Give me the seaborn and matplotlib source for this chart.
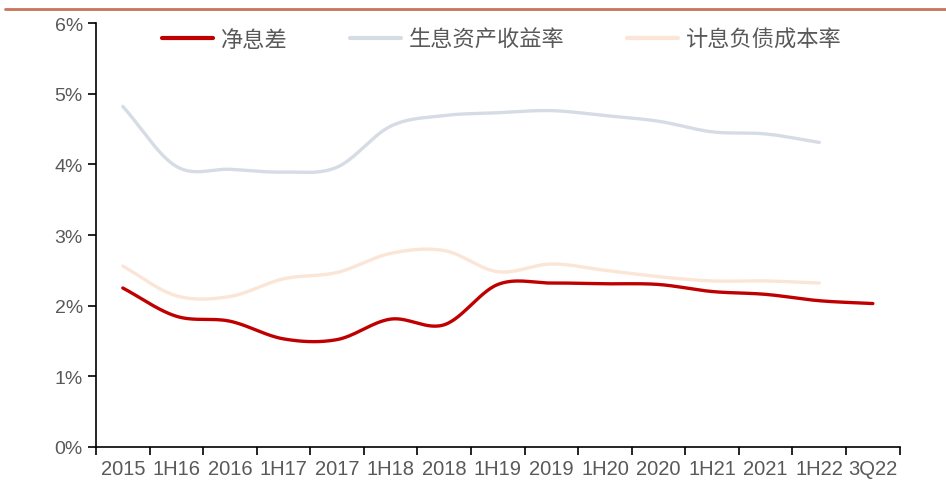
import numpy as np
import pandas as pd
import matplotlib
matplotlib.use("Agg")
import matplotlib.pyplot as plt
from matplotlib.lines import Line2D
from matplotlib.ticker import FixedLocator, NullFormatter, FixedFormatter
import seaborn as sns

categories = ["2015", "1H16", "2016", "1H17", "2017", "1H18", "2018", "1H19",
              "2019", "1H20", "2020", "1H21", "2021", "1H22", "3Q22"]

# 净息差 (%)
nim = [2.25, 1.85, 1.78, 1.53, 1.52, 1.81, 1.73, 2.30,
       2.32, 2.31, 2.30, 2.20, 2.16, 2.07, 2.03]
# 生息资产收益率 (%)
asset_yield = [4.82, 3.97, 3.93, 3.89, 3.96, 4.54, 4.69, 4.73,
               4.76, 4.69, 4.61, 4.46, 4.43, 4.31]
# 计息负债成本率 (%)
cost_rate = [2.56, 2.14, 2.13, 2.38, 2.47, 2.74, 2.78, 2.48,
             2.59, 2.50, 2.41, 2.35, 2.35, 2.32]

series_names = ["净息差", "生息资产收益率", "计息负债成本率"]
series_values = [nim, asset_yield, cost_rate]
colors = ["#C00000", "#D6DCE5", "#FBE5D6"]


def smooth(vals, n=30):
    # Catmull-Rom 样条, 类似 Excel 的平滑线
    y = np.asarray(vals, dtype=float)
    x = np.arange(len(y), dtype=float)
    px = np.concatenate([[2 * x[0] - x[1]], x, [2 * x[-1] - x[-2]]])
    py = np.concatenate([[2 * y[0] - y[1]], y, [2 * y[-1] - y[-2]]])
    xs, ys = [], []
    t = np.linspace(0, 1, n, endpoint=False)
    for i in range(1, len(px) - 2):
        for arr, out in ((px, xs), (py, ys)):
            p0, p1, p2, p3 = arr[i - 1], arr[i], arr[i + 1], arr[i + 2]
            out.extend(0.5 * ((2 * p1) + (-p0 + p2) * t
                              + (2 * p0 - 5 * p1 + 4 * p2 - p3) * t ** 2
                              + (-p0 + 3 * p1 - 3 * p2 + p3) * t ** 3))
    xs.append(x[-1])
    ys.append(y[-1])
    return np.array(xs), np.array(ys)


rows = []
for name, vals in zip(series_names, series_values):
    xs, ys = smooth(vals)
    rows.append(pd.DataFrame({"x": xs, "y": ys, "series": name}))
df = pd.concat(rows, ignore_index=True)

sns.set_style("white")
plt.rcParams["font.family"] = ["Liberation Sans", "DejaVu Sans"]

fig = plt.figure(figsize=(9.46, 4.85), dpi=100)
ax = fig.add_axes([0.1015, 0.0763, 0.8495, 0.8742])

sns.lineplot(data=df, x="x", y="y", hue="series", hue_order=series_names,
             palette=colors, linewidth=2.4, sort=False, estimator=None,
             ax=ax, legend=False)

ax.set_xlim(-0.5, len(categories) - 0.5)
ax.set_ylim(0, 6)
ax.set_xlabel("")
ax.set_ylabel("")

ax.xaxis.set_major_locator(FixedLocator(np.arange(-0.5, len(categories), 1.0)))
ax.xaxis.set_major_formatter(NullFormatter())
ax.xaxis.set_minor_locator(FixedLocator(np.arange(len(categories))))
ax.xaxis.set_minor_formatter(FixedFormatter(categories))
ax.tick_params(axis="x", which="major", direction="out", length=6, width=1.2,
               color="black", bottom=True)
ax.tick_params(axis="x", which="minor", length=0, labelsize=14.5, pad=9,
               labelcolor="#595959")

ax.set_yticks(range(0, 7))
ax.set_yticklabels([f"{i}%" for i in range(0, 7)])
ax.tick_params(axis="y", direction="out", length=6, width=1.2, color="black",
               left=True, labelsize=14, labelcolor="#595959")

for s in ["top", "right"]:
    ax.spines[s].set_visible(False)
for s in ["left", "bottom"]:
    ax.spines[s].set_color("black")
    ax.spines[s].set_linewidth(1.2)

handles = [Line2D([], [], color=c, linewidth=3) for c in colors]
leg = ax.legend(handles, series_names, loc="upper center",
                bbox_to_anchor=(0.505, 1.035), ncol=3, frameon=False,
                columnspacing=2.8, handlelength=2.3, handletextpad=0.35,
                prop={"family": ["Noto Sans CJK SC", "DejaVu Sans"], "size": 16})
for t in leg.get_texts():
    t.set_color("#595959")

# 顶部装饰线
fig.add_artist(Line2D([0.005, 1.0], [0.979, 0.979], transform=fig.transFigure,
                      color="#C8735A", linewidth=2))

fig.savefig("out.png", dpi=100)
